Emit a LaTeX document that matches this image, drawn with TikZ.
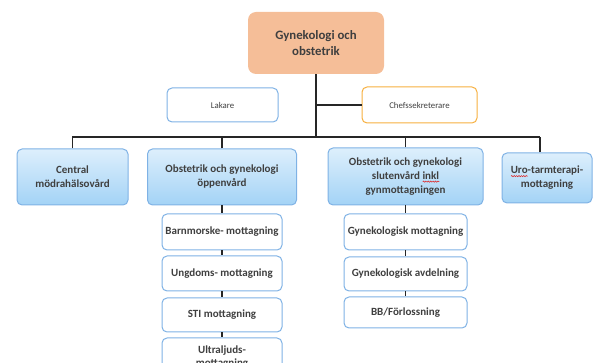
\documentclass[tikz,border=0pt]{standalone}
\usepackage{fontspec}
\setmainfont{Carlito}
\usetikzlibrary{decorations.pathmorphing}
\definecolor{txt}{HTML}{3F3F3F}
\definecolor{peach}{HTML}{F5BE98}
\definecolor{bluebd}{HTML}{7FB2E5}
\definecolor{orangebd}{HTML}{F7B040}
\definecolor{bluetop}{HTML}{DDEFFC}
\definecolor{bluebot}{HTML}{A3D3F6}
\definecolor{linec}{HTML}{262626}
\definecolor{spellred}{HTML}{E02020}
\tikzset{
  box/.style={rounded corners=5pt, draw=bluebd, line width=1pt, align=center,
    text=txt, inner sep=2pt},
  topbox/.style={box, draw=none, fill=peach, rounded corners=8pt,
    font=\fontsize{12.8}{16.5}\selectfont\bfseries},
  staffbox/.style={box, fill=white, font=\fontsize{8.8}{11}\selectfont},
  unitbox/.style={box, top color=bluetop, bottom color=bluebot,
    font=\fontsize{11}{14}\selectfont\bfseries},
  subbox/.style={box, fill=white, font=\fontsize{11}{13.5}\selectfont\bfseries},
  conn/.style={draw=linec, line width=1.1pt},
  spell/.style={draw=spellred, line width=0.5pt, sharp corners,
    decorate, decoration={snake, amplitude=0.6pt, segment length=2.4pt}}
}
% word marked with a wavy red underline
\newcommand\wavyword[1]{\setbox0\hbox{#1}%
  \rlap{\tikz[baseline=0pt]{\draw[spell] (0pt,-2.2pt) -- (\wd0,-2.2pt);}}\box0}
\begin{document}
\begin{tikzpicture}[x=1pt, y=-1pt]
\useasboundingbox (0,0) rectangle (600,363);
\clip (0,0) rectangle (600,363);

% head of the organisation
\node[topbox, minimum width=136pt, minimum height=62pt] (top) at (316,43)
  {Gynekologi och\\obstetrik};

% staff functions
\node[staffbox, minimum width=111pt, minimum height=34pt] (lakare) at (222.5,105) {Lakare};
\node[staffbox, draw=orangebd, minimum width=115pt, minimum height=36pt] (chef) at (419.5,105) {Chefssekreterare};

% bus line feeding the units
\coordinate (busL) at (72,137);
\coordinate (busR) at (540,137);

% units
\node[unitbox, minimum width=111pt, minimum height=56pt] (central) at (72.5,177)
  {Central\\mödrahälsovård};
\node[unitbox, minimum width=149pt, minimum height=56pt] (oppen) at (222,177)
  {Obstetrik och gynekologi\\öppenvård};
\node[unitbox, minimum width=155pt, minimum height=57pt] (sluten) at (405.5,176.5)
  {Obstetrik och gynekologi\\slutenvård \wavyword{inkl}\\gynmottagningen};
\node[unitbox, minimum width=90pt, minimum height=50pt] (uro) at (547,178)
  {\wavyword{Uro}-tarmterapi-\\mottagning};

% receptions under öppenvård
\node[subbox, minimum width=120pt, minimum height=36pt] (barn) at (222,232) {Barnmorske- mottagning};
\node[subbox, minimum width=120pt, minimum height=35pt] (ungdom) at (222,273.5) {Ungdoms- mottagning};
\node[subbox, minimum width=120pt, minimum height=34pt] (sti) at (222,315) {STI mottagning};
\node[subbox, minimum width=120pt, minimum height=38pt] (ultra) at (222,357) {Ultraljuds-\\mottagning};

% units under slutenvård
\node[subbox, minimum width=123pt, minimum height=36pt] (gynmott) at (405.5,232) {Gynekologisk mottagning};
\node[subbox, minimum width=123pt, minimum height=34pt] (gynavd) at (405.5,274) {Gynekologisk avdelning};
\node[subbox, minimum width=123pt, minimum height=31pt] (bb) at (405.5,312.5) {BB/Förlossning};

% connectors
\draw[conn] (busL) -- (busR);
\draw[conn] (top.south) -- (top.south |- busL);
\draw[conn] (chef.west) -- (chef.west -| top.south);
\draw[conn] (central.north) -- (central.north |- busL);
\draw[conn] (oppen.north) -- (oppen.north |- busL);
\draw[conn] (sluten.north) -- (sluten.north |- busL);
\draw[conn] (uro.north -| busR) -- (busR);

\draw[conn] (oppen.south) -- (barn.north);
\draw[conn] (barn.south) -- (ungdom.north);
\draw[conn] (ungdom.south) -- (sti.north);
\draw[conn] (sti.south) -- (ultra.north);

\draw[conn] (sluten.south) -- (gynmott.north);
\draw[conn] (gynmott.south) -- (gynavd.north);
\draw[conn] (gynavd.south) -- (bb.north);
\end{tikzpicture}
\end{document}
